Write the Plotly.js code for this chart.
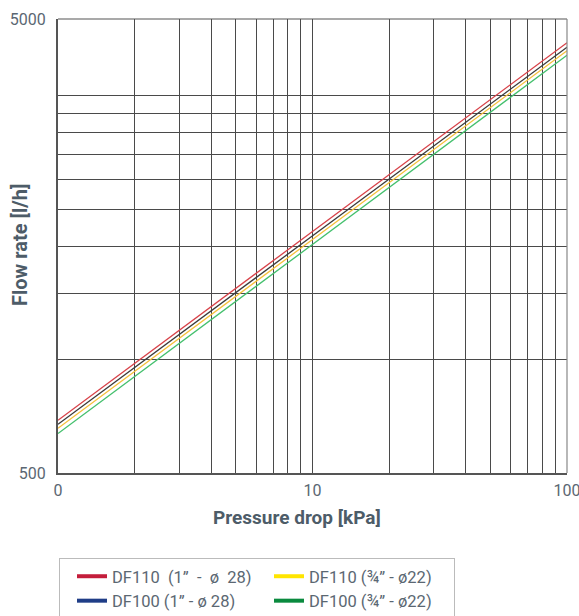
<!DOCTYPE html>
<html>
<head>
<meta charset="utf-8">
<script src="https://cdn.plot.ly/plotly-3.0.1.min.js"></script>
<style>html,body{margin:0;padding:0;background:#fff;}#chart{width:579px;height:616px;}</style>
</head>
<body>
<div id="chart"></div>
<script>
// Pressure drop [kPa]
const pressure = [1, 10, 100];
// Flow rate [l/h]
const df110_1 = [690, 2185, 6920];
const df110_34 = [657, 2080, 6590];
const df100_1 = [673, 2130, 6730];
const df100_34 = [636, 2015, 6410];

const seriesData = [df110_1, df110_34, df100_1, df100_34];
const seriesNames = ['DF110\u00a0\u00a0(1”\u00a0\u00a0-\u00a0\u00a0ø\u00a0\u00a028)', 'DF110 (¾” - ø22)', 'DF100 (1” - ø 28)', 'DF100 (¾” - ø22)'];
const lineColors = ['#d8434a', '#f5c13c', '#3b3b3b', '#45c06e'];
const legendColors = ['#c41d3b', '#ffe500', '#1f3d87', '#0a8a3e'];
const lineOrder = [0, 2, 1, 3]; // drawing order

// axis tick / grid values
const yTickVals = [500, 1000, 1500, 2000, 2500, 3000, 3500, 4000, 4500, 5000, 8000];
const yTickText = ['500', '', '', '', '', '', '', '', '', '', '5000'];
const xTickVals = [1, 2, 3, 4, 5, 6, 7, 8, 9, 10, 20, 30, 40, 50, 60, 70, 80, 90, 100];
const xTickText = ['0', '', '', '', '', '', '', '', '', '10', '', '', '', '', '', '', '', '', '100'];

const traces = [];
lineOrder.forEach(i => {
  traces.push({
    x: pressure, y: seriesData[i], type: 'scatter', mode: 'lines',
    line: {color: lineColors[i], width: 1.3}, showlegend: false, hoverinfo: 'skip'
  });
});
seriesData.forEach((d, i) => {
  traces.push({
    x: [null], y: [null], type: 'scatter', mode: 'lines', name: seriesNames[i],
    line: {color: legendColors[i], width: 4}, showlegend: true
  });
});

const txt = '#5b6772';
const layout = {
  width: 579, height: 616,
  margin: {l: 58, r: 12, t: 19, b: 143},
  paper_bgcolor: '#fff', plot_bgcolor: '#fff',
  font: {family: 'Roboto, sans-serif', color: txt, size: 16},
  showlegend: true,
  xaxis: {
    type: 'log', range: [0, 2], tickmode: 'array', tickvals: xTickVals, ticktext: xTickText,
    showgrid: true, gridcolor: '#4a4a4a', gridwidth: 1, zeroline: false,
    showline: true, linecolor: '#555', linewidth: 2, mirror: false,
    ticks: '', tickfont: {size: 16, color: txt}, ticklabelstandoff: 2,
    ticklabeloverflow: 'allow'
  },
  yaxis: {
    type: 'log', range: [Math.log10(500), Math.log10(8000)], tickmode: 'array',
    tickvals: yTickVals, ticktext: yTickText,
    showgrid: true, gridcolor: '#4a4a4a', gridwidth: 1, zeroline: false,
    showline: true, linecolor: '#555', linewidth: 2, mirror: false,
    ticks: '', tickfont: {size: 16, color: txt}, ticklabelstandoff: 7,
    ticklabeloverflow: 'allow'
  },
  shapes: [
    {type: 'line', xref: 'paper', yref: 'paper', x0: 0, x1: 1, y0: 1, y1: 1, line: {color: '#555', width: 1.2}},
    {type: 'line', xref: 'paper', yref: 'paper', x0: 1, x1: 1, y0: 0, y1: 1, line: {color: '#888', width: 1.2}}
  ],
  annotations: [
    {text: '<b>Pressure drop [kPa]</b>', xref: 'paper', yref: 'paper', x: (297 - 58) / 509, y: (473 - 517) / 454,
     showarrow: false, xanchor: 'center', yanchor: 'middle', font: {size: 19, color: '#4d5c68'}},
    {text: '<b>Flow rate [l/h]</b>', xref: 'paper', yref: 'paper', x: (20 - 58) / 509, y: (473 - 245) / 454,
     showarrow: false, xanchor: 'center', yanchor: 'middle', textangle: -90, font: {size: 20, color: '#4d5c68'}}
  ],
  legend: {
    orientation: 'h', xref: 'container', yref: 'container',
    x: 59 / 579, y: 1 - 558 / 616, xanchor: 'left', yanchor: 'top',
    bordercolor: '#bbbbbb', borderwidth: 1, bgcolor: '#fff', indentation: 12,
    font: {size: 16.5, color: '#5b6772'}, entrywidth: 140, entrywidthmode: 'pixels',
    traceorder: 'normal'
  }
};

Plotly.newPlot('chart', traces, layout, {displayModeBar: false, staticPlot: true});
</script>
</body>
</html>
